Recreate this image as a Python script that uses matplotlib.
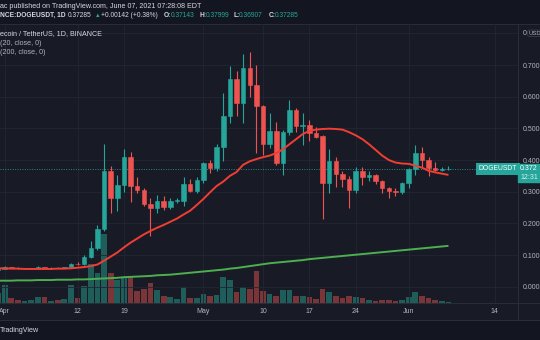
import matplotlib
matplotlib.use("Agg")
import matplotlib.pyplot as plt
import matplotlib.dates as mdates
from matplotlib.patches import Rectangle
from matplotlib.lines import Line2D
import pandas as pd

# DOGE/USDT daily candles, Mar 31 - Jun 7 2021
dates = pd.date_range("2021-03-31", "2021-06-07", freq="D")

opens = [0.0540, 0.0570, 0.0615, 0.0595, 0.0575, 0.0585, 0.0595, 0.0625, 0.0595, 0.0605,
         0.0595, 0.0615, 0.0720, 0.0705, 0.0930, 0.1210, 0.1810, 0.3650, 0.2800, 0.3200,
         0.4090, 0.3180, 0.3050, 0.2610, 0.2490, 0.2710, 0.2510, 0.2720, 0.2720, 0.3230,
         0.3030, 0.3370, 0.3920, 0.3740, 0.4420, 0.5390, 0.6550, 0.5810, 0.6900, 0.6370,
         0.5710, 0.4500, 0.4920, 0.3900, 0.4900, 0.5580, 0.5070, 0.5120, 0.4860, 0.4760,
         0.3280, 0.3970, 0.3560, 0.3410, 0.3050, 0.3640, 0.3460, 0.3520, 0.3340, 0.3110,
         0.3020, 0.3000, 0.3270, 0.3720, 0.4230, 0.4000, 0.3760, 0.3690, 0.37143]
highs = [0.0580, 0.0640, 0.0630, 0.0610, 0.0595, 0.0605, 0.0640, 0.0635, 0.0610, 0.0615,
         0.0625, 0.0760, 0.0780, 0.1000, 0.1450, 0.1950, 0.4500, 0.3810, 0.3530, 0.4350,
         0.4260, 0.3470, 0.3120, 0.2790, 0.2900, 0.2850, 0.2790, 0.2800, 0.3450, 0.3390,
         0.3450, 0.3950, 0.4000, 0.4520, 0.6110, 0.6970, 0.6800, 0.7340, 0.7400, 0.6990,
         0.5750, 0.5470, 0.5210, 0.4950, 0.5900, 0.5630, 0.5470, 0.5260, 0.5050, 0.4800,
         0.4340, 0.4100, 0.3650, 0.3500, 0.3770, 0.3790, 0.3640, 0.3570, 0.3380, 0.3160,
         0.3130, 0.3300, 0.3750, 0.4470, 0.4400, 0.4090, 0.3950, 0.3780, 0.37999]
lows = [0.0530, 0.0555, 0.0580, 0.0560, 0.0565, 0.0570, 0.0585, 0.0580, 0.0585, 0.0585,
        0.0590, 0.0605, 0.0690, 0.0690, 0.0900, 0.1150, 0.1750, 0.2320, 0.2400, 0.3000,
        0.2680, 0.2950, 0.2550, 0.1600, 0.2320, 0.2420, 0.2450, 0.2650, 0.2550, 0.2980,
        0.2950, 0.3260, 0.3600, 0.3650, 0.3980, 0.5160, 0.5400, 0.5160, 0.6000, 0.4210,
        0.4160, 0.4370, 0.3850, 0.3530, 0.4800, 0.4900, 0.4460, 0.4600, 0.4700, 0.2130,
        0.2950, 0.3140, 0.3160, 0.2480, 0.2970, 0.3210, 0.3350, 0.3250, 0.2970, 0.2790,
        0.2860, 0.2930, 0.3110, 0.3530, 0.3790, 0.3500, 0.3650, 0.3650, 0.36907]
closes = [0.0570, 0.0615, 0.0595, 0.0575, 0.0585, 0.0595, 0.0625, 0.0595, 0.0605, 0.0595,
          0.0615, 0.0720, 0.0705, 0.0930, 0.1210, 0.1810, 0.3650, 0.2800, 0.3200, 0.4090,
          0.3180, 0.3050, 0.2610, 0.2490, 0.2710, 0.2510, 0.2720, 0.2725, 0.3230, 0.3030,
          0.3370, 0.3920, 0.3740, 0.4420, 0.5390, 0.6550, 0.5810, 0.6900, 0.6370, 0.5710,
          0.4500, 0.4920, 0.3900, 0.4900, 0.5580, 0.5070, 0.5120, 0.4860, 0.4740, 0.3280,
          0.3970, 0.3560, 0.3410, 0.3050, 0.3640, 0.3450, 0.3520, 0.3340, 0.3110, 0.3020,
          0.3000, 0.3270, 0.3720, 0.4230, 0.4000, 0.3740, 0.3690, 0.3714, 0.37285]
# volume, arbitrary units
volume = [1.00, 1.83, 0.46, 0.30, 0.23, 0.33, 0.60, 0.60, 0.23, 0.30,
          0.40, 1.83, 0.53, 1.67, 3.90, 3.00, 6.93, 3.00, 2.30, 2.60,
          2.60, 1.20, 1.40, 2.00, 1.33, 0.73, 0.60, 0.40, 1.65, 0.55,
          0.55, 0.90, 0.67, 0.83, 2.60, 2.33, 1.10, 1.57, 1.40, 3.17,
          1.17, 0.93, 0.73, 1.33, 1.33, 0.66, 0.66, 0.56, 0.40, 1.43,
          1.10, 0.66, 0.50, 0.73, 0.63, 0.50, 0.33, 0.23, 0.33, 0.30,
          0.20, 0.26, 0.56, 1.06, 0.66, 0.50, 0.33, 0.16, 0.13]
ma20 = [0.058, 0.058, 0.057, 0.057, 0.056, 0.056, 0.056, 0.056, 0.056, 0.057,
        0.057, 0.058, 0.060, 0.062, 0.065, 0.070, 0.082, 0.095, 0.108, 0.124,
        0.139, 0.152, 0.165, 0.176, 0.186, 0.195, 0.205, 0.215, 0.228, 0.240,
        0.258, 0.277, 0.298, 0.318, 0.332, 0.350, 0.362, 0.385, 0.396, 0.403,
        0.409, 0.414, 0.422, 0.434, 0.450, 0.466, 0.482, 0.492, 0.496, 0.498,
        0.499, 0.498, 0.496, 0.488, 0.478, 0.466, 0.450, 0.432, 0.414, 0.400,
        0.392, 0.389, 0.388, 0.382, 0.376, 0.366, 0.361, 0.357, 0.353]
ma200 = [0.019, 0.019, 0.019, 0.020, 0.020, 0.020, 0.021, 0.021, 0.021, 0.022,
         0.022, 0.022, 0.023, 0.023, 0.024, 0.025, 0.026, 0.027, 0.028, 0.030,
         0.031, 0.032, 0.033, 0.034, 0.036, 0.037, 0.038, 0.040, 0.042, 0.044,
         0.046, 0.048, 0.050, 0.052, 0.054, 0.057, 0.059, 0.062, 0.065, 0.068,
         0.071, 0.074, 0.076, 0.078, 0.080, 0.082, 0.084, 0.087, 0.089, 0.091,
         0.093, 0.095, 0.097, 0.099, 0.101, 0.103, 0.105, 0.107, 0.109, 0.111,
         0.113, 0.115, 0.117, 0.119, 0.121, 0.123, 0.125, 0.127, 0.129]

tick_dates = ["2021-04-01", "2021-04-12", "2021-04-19", "2021-05-01", "2021-05-10",
              "2021-05-17", "2021-05-24", "2021-06-01", "2021-06-14"]
tick_labels = ["Apr", "12", "19", "May", "10", "17", "24", "Jun", "14"]
price_ticks = [0.0, 0.1, 0.2, 0.3, 0.4, 0.5, 0.6, 0.7, 0.8]
last_price = 0.37285

UP, DOWN = "#26a69a", "#ef5350"
VOL_UP, VOL_DOWN = "#1f5d5a", "#7a3538"
BG, DARK = "#181b26", "#131620"
GRID = "#222633"
TXT = "#b2b5be"
WHITE = "#d6d8df"
FS = 5.1

plt.rcParams["font.family"] = ["Liberation Sans", "DejaVu Sans"]

W, H = 540, 340
fig = plt.figure(figsize=(5.4, 3.4), dpi=100)
fig.patch.set_facecolor(BG)


def fx(x):
    return x / W


def fy(y):
    return 1 - y / H


# header / footer bands and pane borders
fig.add_artist(Rectangle((0, fy(24)), 1, 24 / H, transform=fig.transFigure, color=DARK, zorder=-1))
fig.add_artist(Rectangle((0, 0), 1, 20 / H, transform=fig.transFigure, color=DARK, zorder=-1))
for y in (24, 303, 320):
    fig.add_artist(Line2D([0, 1], [fy(y), fy(y)], transform=fig.transFigure, color="#2a2e39", lw=0.7))
fig.add_artist(Line2D([fx(518), fx(518)], [fy(24), fy(320)], transform=fig.transFigure, color="#2a2e39", lw=0.7))

x = mdates.date2num(dates)
x0 = mdates.date2num(pd.Timestamp("2021-04-01"))
xlim = (x0 - 0.71, x0 + 77.5)
rect = [0, fy(303), fx(518), 279 / H]

# volume pane (behind)
vax = fig.add_axes(rect, zorder=1)
vax.set_facecolor("none")
vcol = [VOL_UP if c >= o else VOL_DOWN for o, c in zip(opens, closes)]
vax.bar(x, volume, width=0.86, color=vcol)
vax.set_xlim(*xlim)
vax.set_ylim(0, 27.9)
vax.axis("off")

# price pane
ax = fig.add_axes(rect, zorder=2)
ax.set_facecolor("none")
ax.set_xlim(*xlim)
ax.set_ylim(-0.0515, 0.8296)
for s in ax.spines.values():
    s.set_visible(False)

ax.set_xticks(mdates.date2num(pd.to_datetime(tick_dates)))
ax.set_xticklabels(tick_labels)
ax.yaxis.tick_right()
ax.set_yticks(price_ticks)
# top label is hidden behind the USD badge except for its first digit
ax.set_yticklabels([f"{v:.3f}" for v in price_ticks[:-1]] + [""])
ax.tick_params(length=0, colors=TXT, labelsize=5.0)
ax.tick_params(axis="y", pad=3.4)
ax.tick_params(axis="x", pad=3.3)
ax.grid(True, color=GRID, lw=0.6)
ax.set_axisbelow(True)

ccol = [UP if c >= o else DOWN for o, c in zip(opens, closes)]
ax.vlines(x, lows, highs, colors=ccol, lw=0.8, zorder=3)
bottoms = [min(o, c) for o, c in zip(opens, closes)]
heights = [abs(c - o) for o, c in zip(opens, closes)]
ax.bar(x, heights, bottom=bottoms, width=0.68, color=ccol, edgecolor=ccol, lw=0.4, zorder=4)

ax.plot(x, ma200, color="#4caf50", lw=1.4, zorder=5, solid_capstyle="butt")
ax.plot(x, ma20, color="#f23d33", lw=1.4, zorder=5, solid_capstyle="butt")

ax.axhline(last_price, xmin=0, xmax=478 / 518, color=UP, lw=0.7, ls=(0, (1, 1.5)), alpha=0.8, zorder=2)
ax.text(498 / 518, last_price, "DOGEUSDT", transform=ax.get_yaxis_transform(), ha="center", va="center",
        fontsize=4.9, color="white", zorder=6, clip_on=False,
        bbox=dict(boxstyle="square,pad=0.35", fc=UP, ec="none"))

# last price tag on the price axis
fig.add_artist(Rectangle((fx(518), fy(182)), fx(22), 18 / H, transform=fig.transFigure, color=UP, zorder=5))
fig.text(fx(520), fy(169), "0.372", color="white", fontsize=5.0, va="center", ha="left", zorder=6)
fig.text(fx(520), fy(177.5), "12:31", color="#d8f0ee", fontsize=5.0, va="center", ha="left", zorder=6)
fig.text(fx(523), fy(33.3), "0", color=TXT, fontsize=5.0, va="center", ha="left", zorder=6)
fig.text(fx(528.3), fy(33.3), "USD", color=TXT, fontsize=4.2, va="center", ha="left", zorder=6,
         bbox=dict(boxstyle="round,pad=0.12,rounding_size=0.3", fc=BG, ec="#3a3e4a", lw=0.6))

# header
fig.text(0, fy(6), "ac published on TradingView.com, June 07, 2021 07:28:08 EDT",
         color=WHITE, fontsize=FS, va="center", ha="left")
row = [(0, "NCE:DOGEUSDT, 1D", WHITE, "bold"),
       (68, "0.37285", WHITE, "normal"),
       (94.5, "\u25b2", UP, "normal"),
       (101, "+0.00142 (+0.38%)", WHITE, "normal"),
       (164, "O:", WHITE, "bold"), (171, "0.37143", UP, "normal"),
       (199, "H:", WHITE, "bold"), (205.5, "0.37999", UP, "normal"),
       (233, "L:", WHITE, "bold"), (239, "0.36907", UP, "normal"),
       (269, "C:", WHITE, "bold"), (275, "0.37285", UP, "normal")]
for px, s, c, w in row:
    fs = FS - 1.0 if s == "\u25b2" else FS - 0.3
    fig.text(fx(px), fy(15.7), s, color=c, fontsize=fs, fontweight=w, va="center", ha="left")

# legend in pane
fig.text(0, fy(34), "ecoin / TetherUS, 1D, BINANCE", color=WHITE, fontsize=FS, va="center")
fig.text(0, fy(43.3), "(20, close, 0)", color=TXT, fontsize=FS, va="center")
fig.text(0, fy(52.7), "(200, close, 0)", color=TXT, fontsize=FS, va="center")

fig.text(0, fy(330), "TradingView", color=WHITE, fontsize=FS, va="center")

fig.savefig("out.png", dpi=100, facecolor=fig.get_facecolor())
